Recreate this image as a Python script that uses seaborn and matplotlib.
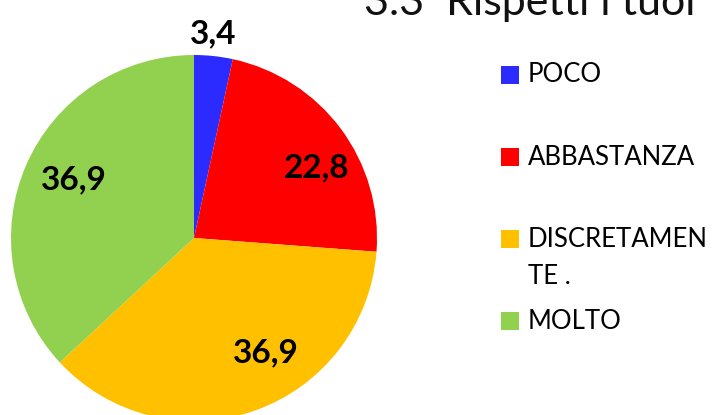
import numpy as np
import seaborn as sns
import matplotlib.pyplot as plt
from matplotlib.patches import Rectangle

categories = ['POCO', 'ABBASTANZA', 'DISCRETAMENTE .', 'MOLTO']
legend_labels = ['POCO', 'ABBASTANZA', 'DISCRETAMEN\nTE .', 'MOLTO']
values = [3.4, 22.8, 36.9, 36.9]
value_labels = ['3,4', '22,8', '36,9', '36,9']
colors = ['#2B2BFF', '#FF0000', '#FFC000', '#92D050']

sns.set_style('white')
plt.rcParams['font.family'] = ['Lato', 'DejaVu Sans']

W, H = 717, 415
fig = plt.figure(figsize=(W / 100, H / 100), dpi=100)

# pie centre and radius in pixels
cx, cy, r = 194, 238, 183
ax = fig.add_axes([(cx - r) / W, (H - cy - r) / H, 2 * r / W, 2 * r / H])
wedges, _ = ax.pie(values, colors=colors, startangle=90, counterclock=False,
                   wedgeprops=dict(linewidth=0))
ax.set_xlim(-1, 1)
ax.set_ylim(-1, 1)
ax.set_aspect('equal')
ax.axis('off')

# label placement (angle in degrees, distance from centre)
label_pos = [(84.7, 1.12), (30, 0.77), (-58, 0.74), (154, 0.73)]
for txt, (ang, d) in zip(value_labels, label_pos):
    a = np.deg2rad(ang)
    ax.text(d * np.cos(a), d * np.sin(a), txt, ha='center', va='center',
            fontsize=24, fontweight='bold', color='black', clip_on=False)

# legend drawn by hand to match the wrapped entry
y0, step = 75, 82
for i, (lab, col) in enumerate(zip(legend_labels, colors)):
    yc = y0 + i * step
    fig.patches.append(Rectangle((501 / W, (H - yc - 9) / H), 18 / W, 18 / H,
                                 transform=fig.transFigure, facecolor=col,
                                 edgecolor='none'))
    fig.text(528 / W, (H - yc) / H, lab.split('\n')[0], ha='left', va='center',
             fontsize=18.5, color='black')
    if '\n' in lab:
        fig.text(528 / W, (H - yc - 37) / H, lab.split('\n')[1], ha='left',
                 va='center', fontsize=18.5, color='black')

fig.text(364 / W, (H - 15) / H, '3.3  Rispetti i tuoi', ha='left',
         va='baseline', fontsize=31, color='#111111')

fig.savefig('out.png', dpi=100)
